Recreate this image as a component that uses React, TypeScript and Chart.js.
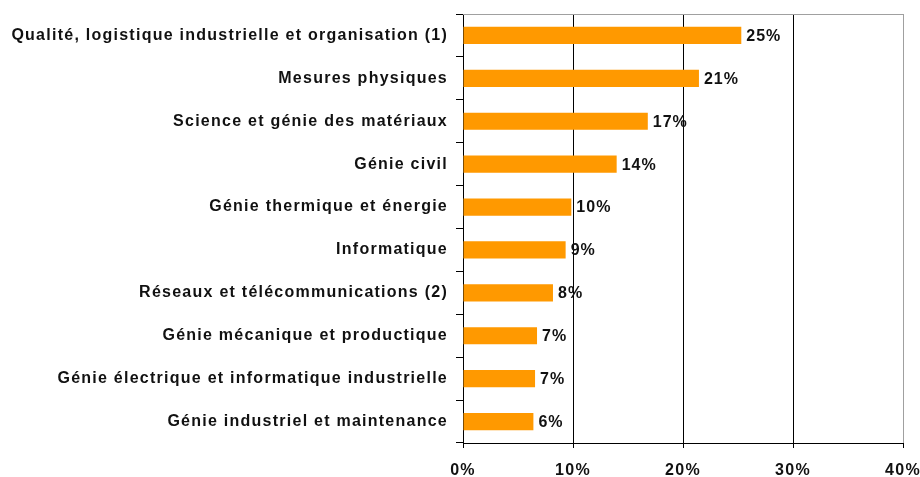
import React, { useEffect, useRef } from "react";
import { Chart, registerables } from "chart.js";

Chart.register(...registerables);

const categories = [
  "Qualité, logistique industrielle et organisation (1)",
  "Mesures physiques",
  "Science et génie des matériaux",
  "Génie civil",
  "Génie thermique et énergie",
  "Informatique",
  "Réseaux et télécommunications (2)",
  "Génie mécanique et productique",
  "Génie électrique et informatique industrielle",
  "Génie industriel et maintenance",
];

const values = [25.3, 21.45, 16.8, 13.97, 9.85, 9.33, 8.18, 6.73, 6.55, 6.4];

const xTicks = [0, 10, 20, 30, 40];

const FONT = "'Liberation Sans', Arial, sans-serif";
const SPACING = "1.25px";

const spacingPlugin = {
  id: "spacing",
  beforeUpdate(chart: any) {
    chart.ctx.letterSpacing = SPACING;
  },
  beforeLayout(chart: any) {
    chart.ctx.letterSpacing = SPACING;
  },
  beforeDraw(chart: any) {
    chart.ctx.letterSpacing = SPACING;
  },
};

const valueLabels = {
  id: "valueLabels",
  afterDatasetsDraw(chart: any) {
    const ctx = chart.ctx;
    const meta = chart.getDatasetMeta(0);
    ctx.save();
    ctx.letterSpacing = "1px";
    ctx.font = `bold 16px ${FONT}`;
    ctx.fillStyle = "#111";
    ctx.textAlign = "left";
    ctx.textBaseline = "middle";
    meta.data.forEach((bar: any, i: number) => {
      ctx.fillText(Math.round(values[i]) + "%", bar.x + 5, bar.y + 1);
    });
    ctx.restore();
  },
};

const topBorder = {
  id: "topBorder",
  afterDraw(chart: any) {
    const { ctx, chartArea } = chart;
    ctx.save();
    ctx.strokeStyle = "#a0a0a0";
    ctx.lineWidth = 1;
    ctx.beginPath();
    ctx.moveTo(chartArea.left, chartArea.top + 0.5);
    ctx.lineTo(chartArea.right, chartArea.top + 0.5);
    ctx.stroke();
    ctx.restore();
  },
};

export default function App() {
  const ref = useRef<HTMLCanvasElement>(null);
  useEffect(() => {
    if (!ref.current) return;
    const chart = new Chart(ref.current, {
      type: "bar",
      data: {
        labels: categories,
        datasets: [
          {
            data: values,
            backgroundColor: "#FF9900",
            borderWidth: 0,
            barPercentage: 0.4,
            categoryPercentage: 1,
          },
        ],
      },
      options: {
        indexAxis: "y",
        animation: false,
        responsive: true,
        maintainAspectRatio: false,
        layout: { padding: { top: 14, right: 17, left: 0, bottom: 0 } },
        plugins: { legend: { display: false }, tooltip: { enabled: false } },
        scales: {
          x: {
            min: 0,
            max: 40,
            afterBuildTicks: (scale: any) => {
              scale.ticks = xTicks.map((v) => ({ value: v }));
            },
            afterFit: (scale: any) => {
              scale.height = 34;
              scale.paddingLeft = 0;
              scale.paddingRight = 0;
            },
            border: { color: "#000", width: 1 },
            grid: {
              color: (c: any) => (c.tick && c.tick.value === 40 ? "#a0a0a0" : "#000"),
              tickColor: "#000",
              tickLength: 5,
              lineWidth: 1,
            },
            ticks: {
              callback: (v: any) => v + "%",
              font: { family: FONT, size: 16, weight: "bold" },
              color: "#111",
              padding: 13,
              maxRotation: 0,
            },
          },
          y: {
            afterFit: (scale: any) => {
              scale.width = 463;
              scale.paddingTop = 0;
              scale.paddingBottom = 0;
            },
            border: { color: "#000", width: 1 },
            grid: {
              drawOnChartArea: false,
              tickColor: "#000",
              tickLength: 7,
              offset: true,
            },
            ticks: {
              font: { family: FONT, size: 16, weight: "bold" },
              color: "#111",
              padding: 8,
            },
          },
        },
      },
      plugins: [spacingPlugin, valueLabels, topBorder],
    });
    return () => chart.destroy();
  }, []);
  return (
    <div style={{ position: "absolute", left: 0, top: 0, width: 920, height: 477, background: "#fff" }}>
      <canvas ref={ref} />
    </div>
  );
}
